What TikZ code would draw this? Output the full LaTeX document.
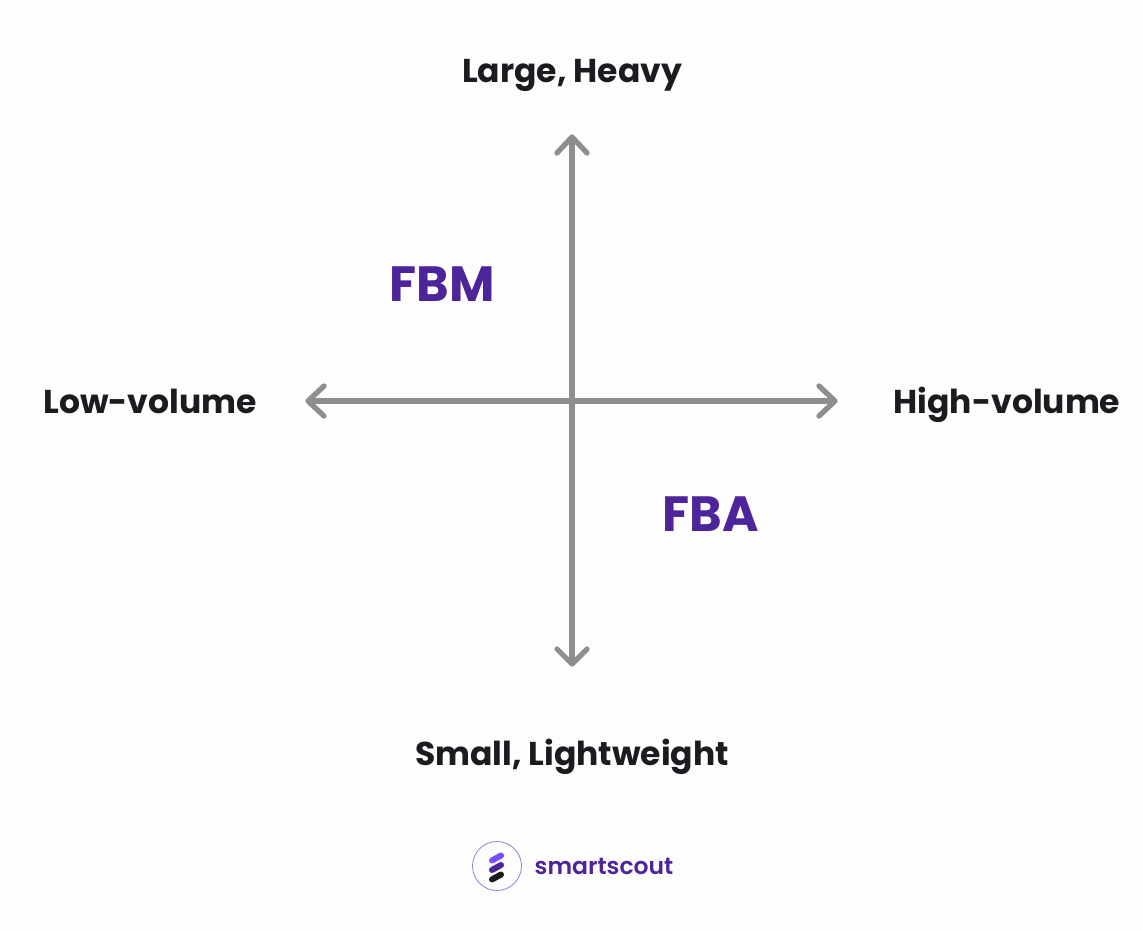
\documentclass[tikz,border=0pt]{standalone}
\usepackage{fontspec}
\setmainfont{Poppins}[BoldFont={* Bold}]
\newfontfamily\semib{Poppins SemiBold}
\definecolor{bgc}{HTML}{FEFDFE}
\definecolor{axisc}{HTML}{8F8D90}
\definecolor{txt}{HTML}{1D1B20}
\definecolor{purp}{HTML}{4E249B}
\definecolor{purl}{HTML}{7C4DFF}
\definecolor{ringc}{HTML}{9B7BE0}
\begin{document}
\begin{tikzpicture}[x=1pt,y=-1pt,
 axisline/.style={draw=axisc,line width=5.3pt},
 tipline/.style={draw=axisc,line width=5.3pt,line cap=round,line join=round},
 lab/.style={font=\bfseries\fontsize{33}{38}\selectfont,text=txt,inner sep=0pt,anchor=center},
 big/.style={font=\bfseries\fontsize{49.5}{56}\selectfont,text=purp,inner sep=0pt,anchor=center}]
\path[fill=bgc] (0,0) rectangle (1143,931);
\useasboundingbox (0,0) rectangle (1143,931);
\coordinate (t) at (572,137);
\coordinate (b) at (572,664);
\coordinate (l) at (308,401);
\coordinate (r) at (835,401);
\draw[axisline] (t) -- (b);
\draw[axisline] (l) -- (r);
\draw[tipline] (557,153) -- (t) -- (587,153);
\draw[tipline] (557,649) -- (b) -- (587,649);
\draw[tipline] (324,386) -- (l) -- (324,416);
\draw[tipline] (819,386) -- (r) -- (819,416);
\node[lab] (n1) at (572,75) {Large, Heavy};
\node[lab] (n2) at (572,757) {Small, Lightweight};
\node[lab] (n3) at (150,401) {Low-volume};
\node[lab] (n4) at (1007,405) {High-volume};
\node[big] (n5) at (442,284) {FBM};
\node[big] (n6) at (711,514) {FBA};
\draw[ringc,line width=.8pt] (497,866) circle (24.5);
\draw[purl,line width=6pt,line cap=round] (492,860.5) -- (501,855.5);
\draw[purp,line width=6pt,line cap=round] (492,870) -- (501,865);
\draw[txt,line width=6pt,line cap=round] (492,879.5) -- (501,874.5);
\node[font=\semib\fontsize{23.5}{28}\selectfont,text=purp,inner sep=0pt] (n7) at (604,866) {smartscout};
\end{tikzpicture}
\end{document}
